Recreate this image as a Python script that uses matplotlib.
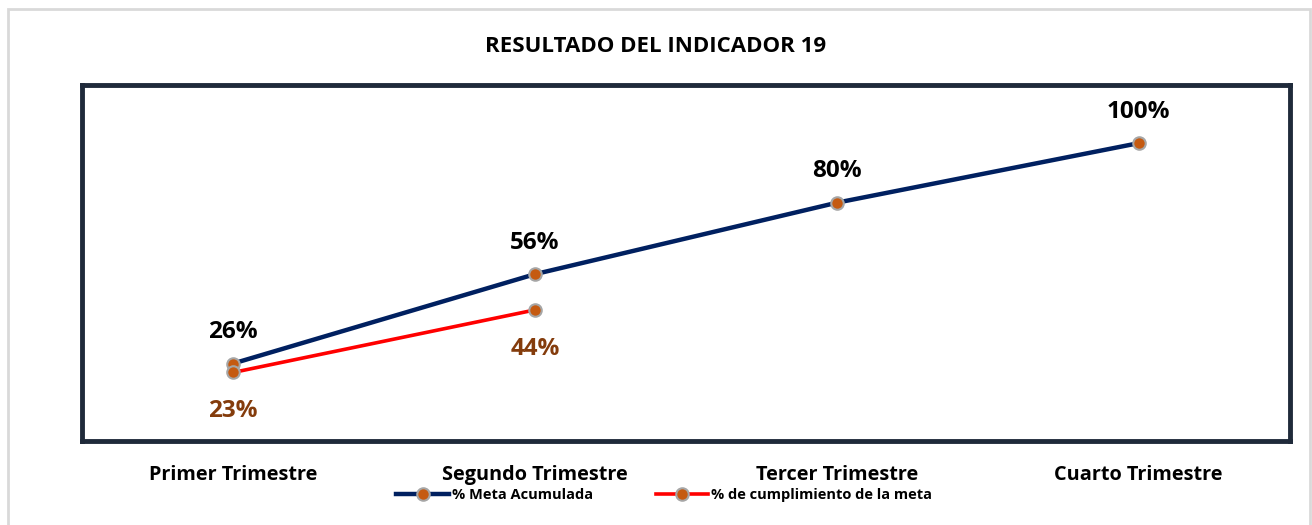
import numpy as np
import matplotlib.pyplot as plt
from matplotlib.patches import Rectangle

# Data
categorias = ['Primer Trimestre', 'Segundo Trimestre', 'Tercer Trimestre', 'Cuarto Trimestre']
meta_acumulada = [26, 56, 80, 100]
cumplimiento = [23, 44]
etiquetas_meta = ['26%', '56%', '80%', '100%']
etiquetas_cumpl = ['23%', '44%']

plt.rcParams['font.family'] = ['Open Sans', 'DejaVu Sans']

fig = plt.figure(figsize=(13.12, 5.25), dpi=100)
ax = fig.add_axes([0.0625, 0.16, 0.9205, 0.678])

# outer light border of the chart area
fig.patches.append(Rectangle((8 / 1312, -0.01), 1302 / 1312, 1 - 9 / 525 + 0.01,
                             transform=fig.transFigure, fill=False,
                             edgecolor='#d9d9d9', linewidth=2))

x = np.arange(len(categorias))
marker_kw = dict(marker='o', markersize=9, markerfacecolor='#c55a11',
                 markeredgecolor='#a6a6a6', markeredgewidth=1.5)

ax.plot(x, meta_acumulada, color='#002060', linewidth=3.2,
        label='% Meta Acumulada', **marker_kw)
ax.plot(x[:len(cumplimiento)], cumplimiento, color='#ff0000', linewidth=2.6,
        label='% de cumplimiento de la meta', **marker_kw)

for xi, v, t in zip(x, meta_acumulada, etiquetas_meta):
    ax.annotate(t, (xi, v), xytext=(0, 22.5), textcoords='offset points',
                ha='center', va='center', fontsize=17.5, fontweight='bold', color='black')
for xi, v, t in zip(x, cumplimiento, etiquetas_cumpl):
    ax.annotate(t, (xi, v), xytext=(0, -28), textcoords='offset points',
                ha='center', va='center', fontsize=17.5, fontweight='bold', color='#843c0c')

ax.set_xlim(-0.5, 3.5)
ax.set_ylim(0, 119.5)
ax.set_yticks([])
ax.set_xticks(x)
ax.set_xticklabels(categorias, fontsize=14.3, fontweight='bold')
ax.tick_params(axis='x', length=0, pad=17)
for s in ax.spines.values():
    s.set_color('#1f2a3a')
    s.set_linewidth(3.5)

fig.text(0.5, 1 - 46 / 525, 'RESULTADO DEL INDICADOR 19', ha='center', va='center',
         fontsize=16, fontweight='bold')

ax.legend(loc='center', bbox_to_anchor=(0.482, -0.152), ncol=2, frameon=False,
          prop={'size': 10.5, 'weight': 'bold'}, handlelength=3.6, columnspacing=4.3,
          handletextpad=0.2)

fig.savefig('out.png', dpi=100)
